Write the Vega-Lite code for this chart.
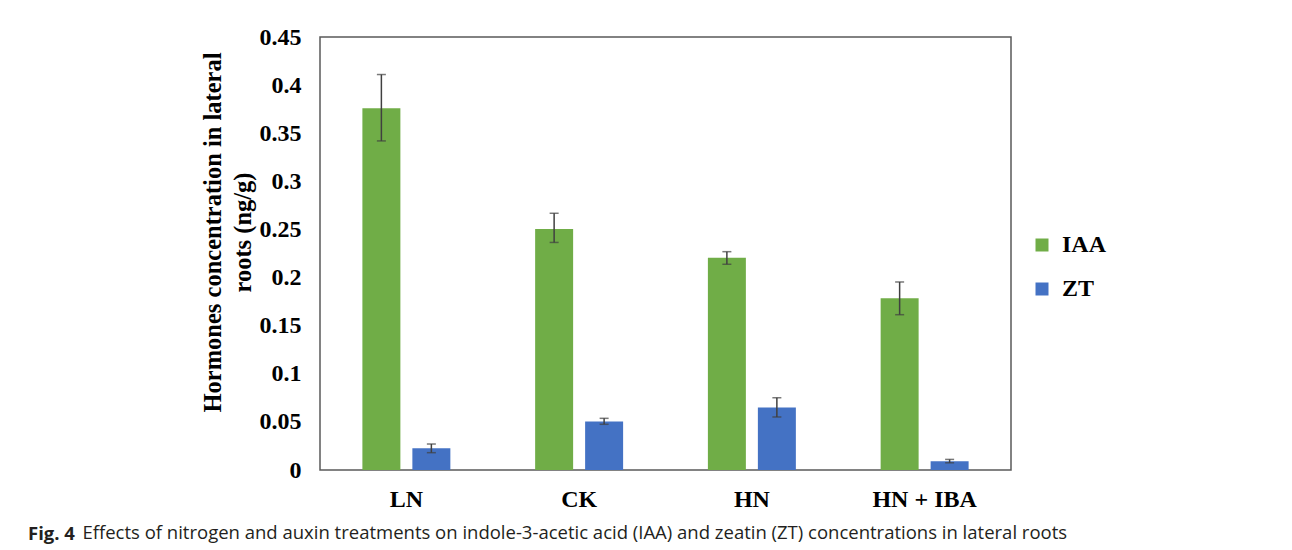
{
  "$schema": "https://vega.github.io/schema/vega-lite/v6.json",
  "autosize": "none",
  "width": 691,
  "height": 433,
  "padding": {"left": 320, "top": 37, "right": 281, "bottom": 80},
  "background": "white",
  "title": {
    "text": "Fig. 4",
    "orient": "bottom",
    "anchor": "start",
    "frame": "group",
    "dx": -292,
    "offset": -17,
    "font": "Open Sans",
    "fontSize": 18.5,
    "fontWeight": "bold",
    "color": "#231f20"
  },
  "data": {
    "values": [
      {"treatment": "LN", "hormone": "IAA", "value": 0.376, "lo": 0.342, "hi": 0.411},
      {"treatment": "LN", "hormone": "ZT", "value": 0.0225, "lo": 0.018, "hi": 0.027},
      {"treatment": "CK", "hormone": "IAA", "value": 0.2505, "lo": 0.2365, "hi": 0.2668},
      {"treatment": "CK", "hormone": "ZT", "value": 0.0505, "lo": 0.0475, "hi": 0.0537},
      {"treatment": "HN", "hormone": "IAA", "value": 0.2205, "lo": 0.2138, "hi": 0.2269},
      {"treatment": "HN", "hormone": "ZT", "value": 0.065, "lo": 0.0551, "hi": 0.0751},
      {"treatment": "HN + IBA", "hormone": "IAA", "value": 0.1785, "lo": 0.1614, "hi": 0.1954},
      {"treatment": "HN + IBA", "hormone": "ZT", "value": 0.009, "lo": 0.0075, "hi": 0.011}
    ]
  },
  "encoding": {
    "x": {
      "field": "treatment",
      "type": "nominal",
      "sort": ["LN", "CK", "HN", "HN + IBA"],
      "scale": {"paddingInner": 0, "paddingOuter": 0},
      "axis": {
        "title": "Effects of nitrogen and auxin treatments on indole-3-acetic acid (IAA) and zeatin (ZT) concentrations in lateral roots",
        "titleFont": "Open Sans",
        "titleFontSize": 18.5,
        "titleFontWeight": "normal",
        "titleColor": "#231f20",
        "titleAnchor": "start",
        "titleAlign": "left",
        "titleBaseline": "alphabetic",
        "titleX": -238,
        "titleY": 68,
        "labelAngle": 0,
        "labelFont": "Liberation Serif",
        "labelFontWeight": "bold",
        "labelFontSize": 24,
        "labelColor": "#000000",
        "labelPadding": 17,
        "ticks": false,
        "domain": false
      }
    },
    "xOffset": {
      "field": "hormone",
      "type": "nominal",
      "scale": {"paddingInner": 0.24, "paddingOuter": 0.848}
    }
  },
  "layer": [
    {
      "mark": {"type": "bar"},
      "encoding": {
        "y": {
          "field": "value",
          "type": "quantitative",
          "scale": {"domain": [0, 0.45], "nice": false},
          "axis": {
            "values": [0, 0.05, 0.1, 0.15, 0.2, 0.25, 0.3, 0.35, 0.4, 0.45],
            "format": ".2~f",
            "grid": false,
            "ticks": false,
            "domain": false,
            "labelFont": "Liberation Serif",
            "labelFontWeight": "bold",
            "labelFontSize": 24,
            "labelColor": "#000000",
            "labelPadding": 19,
            "title": ["Hormones concentration in lateral", "roots (ng/g)"],
            "titleFont": "Liberation Serif",
            "titleFontWeight": "bold",
            "titleFontSize": 24.5,
            "titleLineHeight": 30,
            "titleColor": "#000000",
            "titleBaseline": "alphabetic",
            "titleX": -100,
            "titleY": 195
          }
        },
        "color": {
          "field": "hormone",
          "type": "nominal",
          "scale": {"domain": ["IAA", "ZT"], "range": ["#70ad47", "#4472c4"]},
          "legend": {
            "title": null,
            "orient": "none",
            "legendX": 710,
            "legendY": 196,
            "padding": 0,
            "symbolType": "square",
            "symbolSize": 169,
            "symbolStrokeWidth": 0,
            "labelFont": "Liberation Serif",
            "labelFontWeight": "bold",
            "labelFontSize": 24,
            "labelColor": "#000000",
            "labelOffset": 8,
            "rowPadding": 20
          }
        }
      }
    },
    {
      "mark": {"type": "rule", "color": "#404040", "strokeWidth": 1.5},
      "encoding": {
        "y": {"field": "lo", "type": "quantitative"},
        "y2": {"field": "hi"}
      }
    },
    {
      "mark": {"type": "tick", "color": "#404040", "thickness": 1.5, "size": 9},
      "encoding": {"y": {"field": "hi", "type": "quantitative"}}
    },
    {
      "mark": {"type": "tick", "color": "#404040", "thickness": 1.5, "size": 9},
      "encoding": {"y": {"field": "lo", "type": "quantitative"}}
    }
  ],
  "config": {
    "view": {"stroke": "#595959", "strokeWidth": 1.5}
  }
}
